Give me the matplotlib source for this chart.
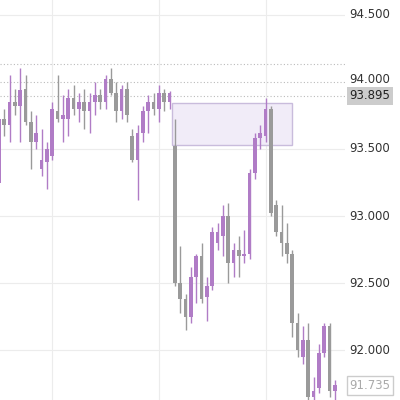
import matplotlib
matplotlib.use('Agg')
import matplotlib.pyplot as plt
from matplotlib.patches import Rectangle

# OHLC, one row per candle
opens  = [93.25, 93.72, 93.68, 93.85, 93.82, 93.95, 93.70, 93.55, 93.35, 93.40,
          93.45, 93.78, 93.72, 93.72, 93.88, 93.80, 93.85, 93.78, 93.85, 93.90,
          93.85, 94.02, 93.92, 93.78, 93.95, 93.60, 93.42, 93.62, 93.78, 93.85,
          93.80, 93.92, 93.85,
          93.52, 92.50, 92.38, 92.25, 92.55, 92.70, 92.40, 92.48, 92.80, 92.85,
          93.00, 92.65, 92.75, 92.70, 92.72, 93.32, 93.58, 93.60, 93.80, 93.08,
          92.88, 92.80, 92.72, 92.20, 91.95, 92.08, 91.65, 91.72, 91.98, 92.18, 91.70]
highs  = [93.75, 93.80, 94.05, 93.95, 94.10, 94.05, 93.78, 93.75, 93.65, 93.55,
          93.85, 94.05, 93.90, 93.95, 93.98, 93.92, 93.95, 93.92, 94.00, 93.95,
          94.05, 94.10, 94.00, 93.98, 94.00, 93.65, 93.68, 93.82, 93.90, 93.92,
          93.98, 93.95, 93.93,
          93.72, 92.78, 92.42, 92.62, 92.72, 92.80, 92.55, 92.92, 92.95, 93.08,
          93.10, 92.80, 92.85, 92.90, 93.35, 93.62, 93.68, 93.88, 93.82, 93.12,
          93.08, 92.95, 92.75, 92.28, 92.18, 92.20, 91.80, 92.05, 92.20, 92.20, 91.78]
lows   = [93.22, 93.60, 93.55, 93.75, 93.55, 93.68, 93.35, 93.50, 93.30, 93.20,
          93.42, 93.70, 93.55, 93.60, 93.75, 93.70, 93.65, 93.62, 93.75, 93.80,
          93.80, 93.90, 93.70, 93.72, 93.70, 93.40, 93.12, 93.55, 93.62, 93.75,
          93.70, 93.78, 93.80,
          92.48, 92.28, 92.15, 92.20, 92.35, 92.35, 92.22, 92.45, 92.75, 92.70,
          92.50, 92.55, 92.55, 92.65, 92.68, 93.28, 93.50, 93.55, 93.00, 92.85,
          92.70, 92.65, 92.10, 91.95, 91.90, 91.62, 91.60, 91.68, 91.95, 91.65, 91.62]
closes = [93.72, 93.68, 93.85, 93.82, 93.94, 93.70, 93.55, 93.62, 93.42, 93.50,
          93.80, 93.72, 93.75, 93.88, 93.80, 93.85, 93.78, 93.85, 93.90, 93.85,
          94.02, 93.92, 93.78, 93.95, 93.75, 93.42, 93.62, 93.78, 93.85, 93.80,
          93.92, 93.85, 93.92,
          92.50, 92.38, 92.25, 92.55, 92.70, 92.38, 92.48, 92.88, 92.88, 93.00,
          92.65, 92.75, 92.70, 92.72, 93.32, 93.58, 93.62, 93.80, 93.02, 92.88,
          92.80, 92.72, 92.20, 92.00, 92.08, 91.65, 91.70, 91.98, 92.18, 91.70, 91.74]

price_ticks = [92.0, 92.5, 93.0, 93.5, 94.0, 94.5]
dotted_levels = [94.13, 94.0, 93.895]
zone = (93.53, 93.843)        # low, high of shaded box
zone_span = (32.5, 55.0)      # candle index span
last_price = 93.895
low_label = 91.735

UP = '#b07cc6'
DOWN = '#9a9a9a'

fig = plt.figure(figsize=(4, 4), dpi=100)
ax = fig.add_axes([0, 0, 0.8625, 1])
ax.set_xlim(0.2, 64.9)
ax.set_ylim(91.63, 94.61)
for s in ax.spines.values():
    s.set_visible(False)
ax.set_xticks([])
ax.set_yticks([])

for v in [10, 30, 50]:
    ax.axvline(v, color='#ececec', lw=0.8, zorder=0)
for p in price_ticks:
    if p != 94.0:
        ax.axhline(p, color='#ececec', lw=0.8, zorder=0)
for p in dotted_levels:
    ax.axhline(p, color='#bbbbbb', lw=0.8, ls=(0, (1, 2)), zorder=0)

ax.add_patch(Rectangle((zone_span[0], zone[0]), zone_span[1] - zone_span[0],
                       zone[1] - zone[0], facecolor='#f1ecf8',
                       edgecolor='#c9bcdc', lw=1, zorder=1))

for i, (o, h, l, c) in enumerate(zip(opens, highs, lows, closes)):
    col = UP if c >= o else DOWN
    ax.vlines(i, l, h, color=col, lw=1, zorder=2)
    ax.bar(i, max(abs(c - o), 0.01), bottom=min(o, c), width=0.7,
           color=col, zorder=3)

tx = 0.925
for p in price_ticks:
    y = ax.transData.transform((0, p))[1] / 400
    if p == 94.0:
        y += 0.005
    fig.text(tx, y, f'{p:.3f}', ha='center', va='center', fontsize=8.5, color='#333333')

y = ax.transData.transform((0, last_price))[1] / 400
fig.text(tx, y, f'{last_price:.3f}', ha='center', va='center', fontsize=8.5,
         color='#222222', bbox=dict(boxstyle='square,pad=0.25', fc='#cccccc', ec='none'))
y = ax.transData.transform((0, low_label))[1] / 400
fig.text(tx, y, f'{low_label:.3f}', ha='center', va='center', fontsize=8.5,
         color='#aaaaaa', bbox=dict(boxstyle='square,pad=0.25', fc='white', ec='#cccccc'))

fig.savefig('out.png', dpi=100)
